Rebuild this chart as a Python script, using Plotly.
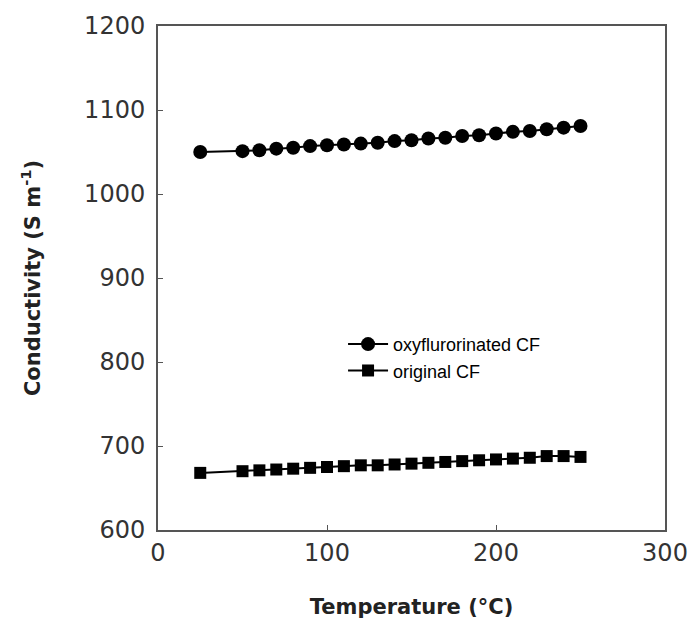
import plotly.graph_objects as go

temps = [25, 50, 60, 70, 80, 90, 100, 110, 120, 130, 140, 150, 160, 170, 180, 190, 200, 210, 220, 230, 240, 250]
oxy = [1050, 1051, 1052, 1054, 1055, 1057, 1058, 1059, 1060, 1061, 1063, 1064, 1066, 1067, 1069, 1070, 1072, 1074, 1075, 1077, 1079, 1081]
orig = [668, 670, 671, 672, 673, 674, 675, 676, 677, 677, 678, 679, 680, 681, 682, 683, 684, 685, 686, 688, 688, 687]

fig = go.Figure()
fig.add_trace(go.Scatter(x=temps, y=oxy, mode="lines+markers", name="oxyflurorinated CF",
                         line=dict(color="black", width=2),
                         marker=dict(symbol="circle", size=14, color="black")))
fig.add_trace(go.Scatter(x=temps, y=orig, mode="lines+markers", name="original CF",
                         line=dict(color="black", width=2),
                         marker=dict(symbol="square", size=12, color="black")))

tickfont = dict(family="DejaVu Sans", size=24, color="#333")
fig.update_layout(
    width=693, height=623,
    margin=dict(l=158, r=28, t=26, b=93),
    paper_bgcolor="white", plot_bgcolor="white",
    showlegend=True,
    legend=dict(x=0.365, y=0.405, xanchor="left", yanchor="top",
                font=dict(family="Liberation Sans", size=18, color="black"),
                bgcolor="rgba(0,0,0,0)", tracegroupgap=0, itemwidth=40),
    xaxis=dict(range=[0, 300], tickvals=[0, 100, 200, 300], ticks="inside", ticklen=5,
               tickcolor="#555", showline=True, linecolor="#555", linewidth=2, mirror=True,
               showgrid=False, zeroline=False, tickfont=tickfont, automargin=False,
               title=dict(text="<b>Temperature (°C)</b>", font=dict(family="DejaVu Sans", size=21, color="#222"), standoff=34)),
    yaxis=dict(range=[600, 1200], tickvals=[600, 700, 800, 900, 1000, 1100, 1200], ticks="inside", ticklen=5,
               tickcolor="#555", showline=True, linecolor="#555", linewidth=2, mirror=True,
               showgrid=False, zeroline=False, tickfont=tickfont, ticklabelstandoff=6, automargin=False,
               title=dict(text="<b>Conductivity (S m<sup>-1</sup>)</b>", font=dict(family="DejaVu Sans", size=21, color="#222"), standoff=38)),
)
fig.write_html("out.html")
